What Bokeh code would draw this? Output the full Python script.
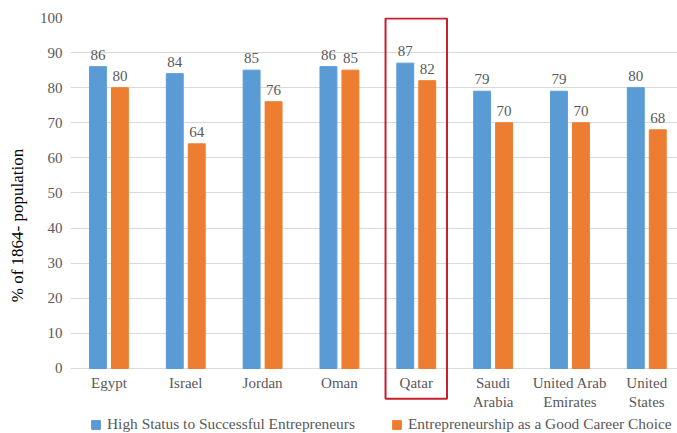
from bokeh.plotting import figure
from bokeh.models import (Range1d, FixedTicker, BoxAnnotation, Legend, LegendItem,
                          ColumnDataSource)
from bokeh.core.properties import value
from bokeh.embed import file_html
from bokeh.resources import INLINE

# --- data -------------------------------------------------------------
countries = ["Egypt", "Israel", "Jordan", "Oman", "Qatar",
             "Saudi\nArabia", "United Arab\nEmirates", "United\nStates"]
high_status = [86, 84, 85, 86, 87, 79, 79, 80]
good_career = [80, 64, 76, 85, 82, 70, 70, 68]
series_names = ["High Status to Successful Entrepreneurs",
                "Entrepreneurship as a Good Career Choice"]
highlight = "Qatar"
y_ticks = list(range(0, 101, 10))

# --- styling ----------------------------------------------------------
BLUE = "#5B9BD5"
ORANGE = "#ED7D31"
TEXT = "#595959"
GRID = "#D9D9D9"
FONT = "Liberation Serif"
BAR_W = 0.22
OFFSET = 0.143

idx = list(range(len(countries)))
src = ColumnDataSource(dict(
    x=idx,
    xb=[i - OFFSET for i in idx],
    xo=[i + OFFSET for i in idx],
    hs=high_status,
    gc=good_career,
    hs_txt=[str(v) for v in high_status],
    gc_txt=[str(v) for v in good_career],
    zero=[0] * len(idx),
    name=countries,
))

p = figure(width=677, height=433, output_backend="svg", toolbar_location=None,
           x_range=Range1d(-0.5, 7.40), y_range=Range1d(-18.52, 100),
           min_border_left=70, min_border_right=0, min_border_top=17,
           min_border_bottom=0)
p.outline_line_color = None
p.background_fill_color = "white"
p.border_fill_color = "white"

# axes
p.xaxis.visible = False
p.xgrid.visible = False
yax = p.yaxis[0]
yax.ticker = FixedTicker(ticks=y_ticks)
yax.axis_line_color = None
yax.major_tick_line_color = None
yax.minor_tick_line_color = None
yax.major_tick_out = 0
yax.major_tick_in = 0
yax.minor_tick_out = 0
yax.major_label_text_font = FONT
yax.major_label_text_font_size = "15px"
yax.major_label_text_color = TEXT
yax.major_label_standoff = 8
yax.axis_label = "% of 1864- population"
yax.axis_label_text_font = FONT
yax.axis_label_text_font_style = "normal"
yax.axis_label_text_font_size = "17px"
yax.axis_label_text_color = "#000000"
yax.axis_label_standoff = 10
p.ygrid.ticker = FixedTicker(ticks=y_ticks)
p.ygrid.grid_line_color = GRID
p.ygrid.grid_line_width = 1

# bars
r1 = p.vbar(x="xb", top="hs", width=BAR_W, source=src, color=BLUE)
r2 = p.vbar(x="xo", top="gc", width=BAR_W, source=src, color=ORANGE)

# value labels
for xc, yc, tc in (("xb", "hs", "hs_txt"), ("xo", "gc", "gc_txt")):
    p.text(x=xc, y=yc, text=tc, source=src, text_align="center",
           text_baseline="bottom", y_offset=-7, text_font=value(FONT),
           text_font_size="15px", text_color=TEXT)

# category labels under the zero line
p.text(x="x", y="zero", text="name", source=src, text_align="center",
       text_baseline="top", y_offset=7, text_font=value(FONT),
       text_font_size="15px", text_color=TEXT, text_line_height=1.15)

# highlight box around Qatar
q = countries.index(highlight)
p.add_layout(BoxAnnotation(left=q - 0.40, right=q + 0.40, top=99.7, bottom=-8.6,
                           fill_alpha=0, line_color="#C8202A", line_alpha=1,
                           line_width=2))

legend = Legend(items=[LegendItem(label=series_names[0], renderers=[r1]),
                       LegendItem(label=series_names[1], renderers=[r2])],
                location=(20, 0), orientation="horizontal",
                label_text_font=FONT, label_text_font_size="15.4px",
                label_text_color=TEXT, glyph_width=11, glyph_height=11,
                label_standoff=6, spacing=36, padding=2, margin=0,
                border_line_color=None, background_fill_alpha=0)
p.add_layout(legend, "center")

open("out.html", "w").write(file_html(p, INLINE))
